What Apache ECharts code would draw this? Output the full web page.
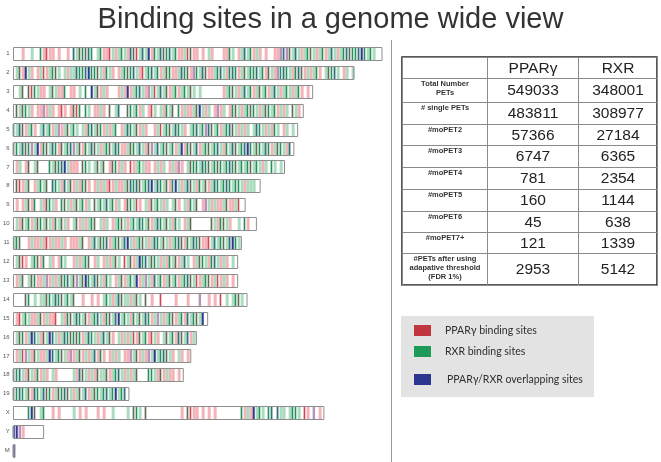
<!DOCTYPE html>
<html>
<head>
<meta charset="utf-8">
<title>Binding sites in a genome wide view</title>
<script src="https://cdn.jsdelivr.net/npm/echarts@6/dist/echarts.min.js"></script>
<style>
  html, body { margin: 0; padding: 0; background: #fff; }
  #chart { width: 661px; height: 462px; }
</style>
</head>
<body>
<div id="chart"></div>
<script>
// chromosomes and their length in Mb
const chromosomes = ['1', '2', '3', '4', '5', '6', '7', '8', '9', '10', '11', '12', '13', '14', '15', '16', '17', '18', '19', 'X', 'Y', 'M'];
const chromLengthsMb = [197, 182, 160, 155, 152, 150, 145, 132, 124, 130, 122, 120, 120, 125, 104, 98, 95, 91, 62, 166, 16.5, 1];

// binding sites, one character per 1.6 Mb bin
// r/R/m = PPARg, g/G/k = RXR, b/t = overlapping, '.' = none
const binMb = 1.6;
const siteTracks = [
  '...r..g..GrRrr.r..r.tgkGktG.gGrrRgrgGgrtkRgtgbrGgtkGtgGrrgRkrr.r.gr...rrGg.rgtgGrgr.r..rrmtmkgtgrgGkgrgGrgtgrgGtkGGtbGgGg..',
  '.gkrbgr.rgRrgGkg.grggtGGtbGGkgrGgr.rgGkGtgrRgGtgGrgkGrrgtGkrmGgtkrrgGtgrGtGrgkgGGtgGrkgrmGtGgrGtkrgrgGr.gkGtg.rg.g',
  '..gk.kRGgrr.gkgrrG.rr.g.G.bgkrgr...rgrbrgGtgrmgRgtgkrgGrgGgkg.g.......rgGkgrgtgGrgkgGrgtgrgGgrgGr.r.',
  '.kgkGgr.rrmrgr.rRr.rkRG.Gg.rrgr.k.gt..kGgGrg.rRg.grGgk.Grgrrgkbgrg.rmrg.rGkgrgGkGgrgkGgGrgrg.kgr.',
  'GgtkrgGr.gtgGrgmrgkgGg.grGtgkGrgrgG.rgtGgkrgr..rgRgGkgtGgr.gGtgGmtkgGrgGtkgrgrg.gtGgrgrGg.rg.g.',
  'kGgtkGmgbrGkgtGrkgGtmgkrGgtkgrgGkgtGrrgkGgtgrkmgtgGkgGrgbrGkgtrgGkgGtgrGgtkgGtbGgkGgtGrgkGgrt.',
  '.rg.rk.gk...GgkGtbgrrr.kGg.gkgk.rkGrgr.RrgGgrr.rgrg.rgrmr.gkGGgtGkgGkGgGtGkgGgGkgGgrg.Gg.g.',
  '.kRrgk.rgGgk.tGgrtgkrgrGkr.rgrgrRrgrrgktGtkgGtbgtGgkrGbgrgtkgrGgkrgtGgGtGgGGgrggg..',
  '.r.rgkrG.grkGgr.GkgrgkgGrg.kgGgtgGrg.rkGgRr.grkgGgrg.gkr.grGgk.rmgrgrrgkrrgR..',
  '.grkgGrgkGgkgrGgkgr.gkrgrgGk.grg.rgGkgrgGgtGgkrgtGgkgrGg.rgk......kgrGkgr..g.Gr...',
  'gGk..rgrrgrRrgrrgr.rrrgk.rgtgkGtrgGkgtbgrgGkgrgtGgkgrgGtkrGgtGkrrRgtgGkgtbGg',
  '.gkRr.gGkrG.gr.rGg..rgrgGk.rg.rgrgkg.RgkrgbGtgkGgrgrGgkrgtg.rgkGgrGtgrgr.g.',
  '.rgk.gkGrrgmrgrgkGtgkmgkbGgtkgrGg.rgkrgGgbrgmgrtgGrgkgGrgGtkgRrgGkrgRrgr.r.',
  '....kG.g.ggkGgtGkgGgk..r..r.r.gGgrgtkggrgkg.k.r..R....r...r...m..r.r.R.g.gGkg.',
  '.rRgGgrrgkrgrrR.grGkgtGgkrgGtgrGkgtbgGgrGgkgtGrgmgrgGkrgGrtgGkgb.',
  '.gkGrgbtgrkgbtgrgtGkGkGrgtGgrgtgkr.grgrgRrkgGrRgr.gkgGrtkgtrg.',
  '.rgRmgrkgrrgbtgGkgrmrgkrgrgtrGr.rgrg.rrmgkrgrmgbgGtkgr.gr.r.',
  'kGtgrkgrGrgr.gr.....grtkgrgrkggkrgGtgrgrgk...GGgrkrgrr.r.',
  'kGtGgkrtGgtkGrgkGtkgrgkgtrgkGgGtgGbgGt.',
  '.....Gbk.gG..r.r....g.r.r...r.r..g....g.kGg.k...........r.kRrr.r.r.r........GrgrbgGg.Gt.tgg.gGGg.Rr.m.r.',
  'bbmr',
  'b'
];

// table content
const tableColumns = ['PPARγ', 'RXR'];
const tableLabels = [
  'Total Number\nPETs',
  '# single PETs',
  '#moPET2',
  '#moPET3',
  '#moPET4',
  '#moPET5',
  '#moPET6',
  '#moPET7+',
  '#PETs after using\nadapative threshold\n(FDR 1%)'
];
const pparValues = [549033, 483811, 57366, 6747, 781, 160, 45, 121, 2953];
const rxrValues = [348001, 308977, 27184, 6365, 2354, 1144, 638, 1339, 5142];

// layout of the table (px-like units on the table grid)
const colWidths = [85, 91, 79];
const rowHeights = [21, 24, 22, 21, 22, 22, 22, 21, 21, 32];
const colEdges = [0];
colWidths.forEach((w, i) => colEdges.push(colEdges[i] + w));
const rowEdges = [0];
rowHeights.forEach((h, i) => rowEdges.push(rowEdges[i] + h));

const siteCodes = 'rRmgGkbt';
const siteColors = ['#f4b3b8', '#cf4650', '#b892ba', '#acdcc0', '#24905b', '#5f6b55', '#2f3a8f', '#2f7279'];
// pale marks fill the bin, dark marks are thin lines
const siteWidths = [1, 0.55, 0.8, 1, 0.55, 0.55, 0.7, 0.6];
const siteGroups = [
  { name: 'PPARγ binding sites', codes: 'rRm', color: '#c2373d' },
  { name: 'RXR binding sites', codes: 'gGk', color: '#1d9a58' },
  { name: 'PPARγ/RXR overlapping sites', codes: 'bt', color: '#2c3590' }
];
const legendTops = [325, 346, 374];

const boxHeight = 13;
const pxPerMb = 370 / 197;

const renderStripe = (params, api) => {
  const pt = api.coord([api.value(0), api.value(1)]);
  const w = api.size([binMb, 0])[0];
  const code = api.value(2);
  const boxTop = Math.round(pt[1] - boxHeight / 2);
  return {
    type: 'rect',
    shape: { x: pt[0], y: boxTop + 1, width: w * siteWidths[code], height: boxHeight - 1 },
    style: { fill: siteColors[code] }
  };
};

const renderBox = (params, api) => {
  const p0 = api.coord([0, api.value(1)]);
  const p1 = api.coord([api.value(0), api.value(1)]);
  const x = Math.round(p0[0]) + 0.5;
  return {
    type: 'rect',
    shape: { x: x, y: Math.round(p0[1] - boxHeight / 2) + 0.5, width: Math.max(p1[0] - x, 1.5), height: boxHeight },
    style: { fill: null, stroke: '#8e8e8e', lineWidth: 1 }
  };
};

const renderCell = (params, api) => {
  const c = api.value(0);
  const r = api.value(1);
  const p0 = api.coord([colEdges[c], rowEdges[r]]);
  const p1 = api.coord([colEdges[c + 1], rowEdges[r + 1]]);
  const x0 = Math.round(p0[0]) + 0.5;
  const y0 = Math.round(p0[1]) + 0.5;
  const x1 = Math.round(p1[0]) + 0.5;
  const y1 = Math.round(p1[1]) + 0.5;
  let text = '';
  if (r === 0) {
    text = c === 0 ? '' : tableColumns[c - 1];
  } else if (c === 0) {
    text = tableLabels[r - 1];
  } else {
    text = String((c === 1 ? pparValues : rxrValues)[r - 1]);
  }
  const isLabel = c === 0;
  return {
    type: 'group',
    children: [
      {
        type: 'rect',
        shape: { x: x0, y: y0, width: x1 - x0, height: y1 - y0 },
        style: { fill: null, stroke: '#8a8a8a', lineWidth: 1 }
      },
      {
        type: 'text',
        style: isLabel ? {
          text: text,
          x: (x0 + x1) / 2,
          y: y0 + 1.5,
          align: 'center',
          verticalAlign: 'top',
          fontSize: 7.5,
          fontWeight: 'bold',
          fontFamily: 'Liberation Sans',
          lineHeight: 8.7,
          fill: '#333'
        } : {
          text: text,
          x: (x0 + x1) / 2,
          y: (y0 + y1) / 2 + 0.5,
          align: 'center',
          verticalAlign: 'middle',
          fontSize: 15.5,
          fontFamily: 'Liberation Sans',
          fill: '#222'
        }
      }
    ]
  };
};

const stripeSeries = siteGroups.map((g) => {
  const data = [];
  siteTracks.forEach((track, i) => {
    for (let j = 0; j < track.length; j++) {
      const ch = track[j];
      if (g.codes.indexOf(ch) >= 0) {
        data.push([j * binMb, i, siteCodes.indexOf(ch)]);
      }
    }
  });
  return {
    name: g.name,
    type: 'custom',
    xAxisIndex: 0,
    yAxisIndex: 0,
    renderItem: renderStripe,
    itemStyle: { color: g.color },
    encode: { x: 0, y: 1 },
    // pale marks underneath the dark ones
    z: g.codes === 'rRm' ? 1 : 2,
    data: data
  };
});

const tableData = [];
for (let r = 0; r < rowHeights.length; r++) {
  for (let c = 0; c < colWidths.length; c++) {
    tableData.push([c, r]);
  }
}

const chart = echarts.init(document.getElementById('chart'));
const option = {
  animation: false,
  backgroundColor: '#fff',
  title: {
    text: 'Binding sites in a genome wide view',
    left: 'center',
    top: 0,
    textStyle: { fontSize: 29, fontWeight: 'normal', color: '#333', fontFamily: 'Liberation Sans' }
  },
  graphic: [
    { type: 'rect', left: 401, top: 316, shape: { width: 193, height: 81 }, style: { fill: '#e3e3e3' }, z: -1 },
    { type: 'line', shape: { x1: 391.5, y1: 40, x2: 391.5, y2: 462 }, style: { stroke: '#9a9a9a', lineWidth: 1 } }
  ],
  legend: siteGroups.map((g, i) => ({
    data: [g.name],
    orient: 'vertical',
    left: 414,
    top: legendTops[i],
    padding: 0,
    itemGap: 0,
    itemWidth: 17,
    itemHeight: 11,
    icon: 'rect',
    selectedMode: false,
    textStyle: { fontSize: 10.5, color: '#2e2e2e', fontFamily: 'Lato', padding: [0, 0, 0, i === 2 ? 11 : 9] }
  })),
  grid: [
    { left: 12, top: 44.05, width: 200 * pxPerMb, height: 22 * 18.9 },
    { left: 402, top: 57, width: 255, height: 228, show: true, borderColor: '#222', borderWidth: 1.5, backgroundColor: '#fff' }
  ],
  xAxis: [
    { gridIndex: 0, type: 'value', min: 0, max: 200, show: false },
    { gridIndex: 1, type: 'value', min: 0, max: 255, show: false }
  ],
  yAxis: [
    {
      gridIndex: 0,
      type: 'category',
      inverse: true,
      data: chromosomes,
      axisLine: { show: false },
      axisTick: { show: false },
      splitLine: { show: false },
      axisLabel: { fontSize: 6, color: '#555', margin: 3, fontFamily: 'Liberation Sans' }
    },
    { gridIndex: 1, type: 'value', min: 0, max: 228, inverse: true, show: false }
  ],
  series: stripeSeries.concat([
    {
      name: 'chromosomes',
      type: 'custom',
      xAxisIndex: 0,
      yAxisIndex: 0,
      renderItem: renderBox,
      encode: { x: 0, y: 1 },
      z: 3,
      silent: true,
      data: chromLengthsMb.map((len, i) => [len, i])
    },
    {
      name: 'table',
      type: 'custom',
      xAxisIndex: 1,
      yAxisIndex: 1,
      renderItem: renderCell,
      encode: { x: 0, y: 1 },
      silent: true,
      data: tableData
    }
  ])
};
chart.setOption(option);
</script>
</body>
</html>
